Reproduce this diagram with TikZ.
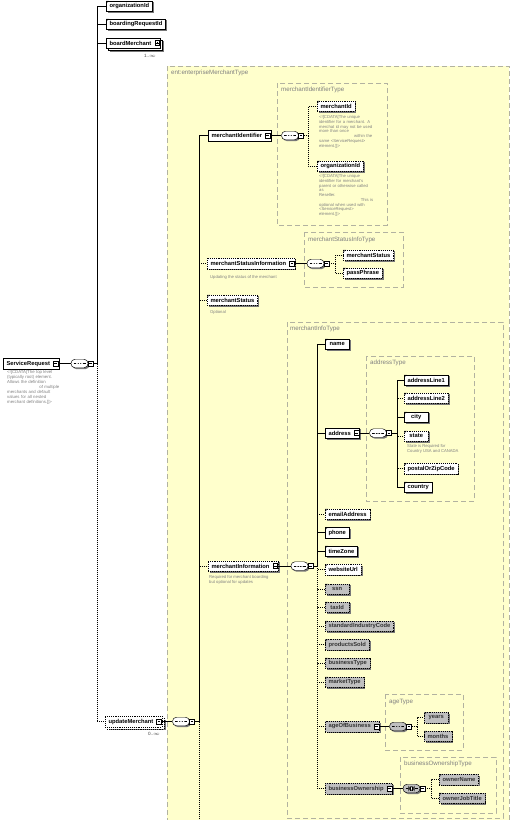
\documentclass[tikz,border=0pt]{standalone}
\usepackage{fontspec}
\setmainfont{Liberation Sans}
\usetikzlibrary{shadows}
\definecolor{ybg}{RGB}{255,255,204}
\definecolor{tbord}{RGB}{178,178,160}
\definecolor{gelc}{RGB}{192,192,192}
\definecolor{shc}{RGB}{120,120,120}
\newcommand\elf{\fontsize{5.8}{6.5}\selectfont\bfseries}
\newcommand\descf{\fontsize{4.2}{4.75}\selectfont}
\newcommand\typef{\fontsize{6.2}{7}\selectfont}
\newcommand\ic{\kern5.5pt\relax}
\tikzset{
  shad/.style={drop shadow={shadow xshift=1.4pt, shadow yshift=-1.4pt, fill=shc, opacity=1}},
  elbase/.style={draw=black, line width=0.45pt, fill=white, font=\elf, text=black, inner xsep=3.3pt, inner ysep=0pt, minimum height=10.5pt, minimum width=24pt, anchor=west},
  el/.style={elbase, shad},
  stackel/.style={elbase, drop shadow={shadow xshift=3.4pt, shadow yshift=-3.4pt, fill=shc, opacity=1}, copy shadow={shadow xshift=2pt, shadow yshift=-2pt, draw=black, fill=white, line width=0.45pt}},
  opt/.style={dash pattern=on 1pt off 0.9pt},
  gel/.style={fill=gelc, text=black!80},
  leaf/.style={path picture={\fill[black!60] (path picture bounding box.north west) -- ++(2.8pt,0pt) -- ++(-2.8pt,-2.8pt) -- cycle;}},
  icon/.style={draw=black, line width=0.4pt, fill=white, minimum size=4.8pt, inner sep=0pt, path picture={\draw[line width=0.5pt] ([xshift=1pt]path picture bounding box.west) -- ([xshift=-1pt]path picture bounding box.east);}},
  seqbase/.style={draw=black, line width=0.45pt, fill=white, rounded corners=4pt, minimum width=17pt, minimum height=8.5pt, inner sep=0pt, shad},
  seq/.style={seqbase, path picture={\draw[line width=0.45pt] ([xshift=-6pt]path picture bounding box.center) -- ([xshift=6pt]path picture bounding box.center); \foreach \d in {-2.6,0,2.6} \fill ([xshift=\d pt]path picture bounding box.center) circle (0.9pt);}},
  allc/.style={seqbase, fill=gelc, path picture={\draw[line width=0.45pt] ([xshift=-6pt]path picture bounding box.center) -- ([xshift=6pt]path picture bounding box.center); \draw[line width=0.4pt, fill=white] ([shift={(-3pt,-2pt)}]path picture bounding box.center) rectangle ([shift={(3pt,2pt)}]path picture bounding box.center); \draw[line width=0.4pt] ([shift={(-1pt,-2pt)}]path picture bounding box.center) -- ([shift={(-1pt,2pt)}]path picture bounding box.center); \draw[line width=0.4pt] ([shift={(1pt,-2pt)}]path picture bounding box.center) -- ([shift={(1pt,2pt)}]path picture bounding box.center);}},
  tbox/.style={draw=tbord, line width=0.7pt, dash pattern=on 5pt off 3pt, fill=ybg},
  tlabel/.style={font=\typef, text=black!50, anchor=west, inner sep=0pt},
  desc/.style={font=\descf, text=black!50, anchor=north west, inner sep=0pt, align=left},
  mult/.style={font=\fontsize{4.6}{5}\selectfont, text=black!75, inner sep=0pt},
  conn/.style={draw=black, line width=0.45pt},
  optc/.style={conn, dash pattern=on 1pt off 1pt},
}
\begin{document}
\begin{tikzpicture}[x=1pt,y=-1pt]
\useasboundingbox (0,0) rectangle (514,820);
\clip (0,0) rectangle (514,820);
% type containers
\draw[tbox] (167,66) rectangle (509,840);
\draw[tbox] (277,83) rectangle (387,225);
\draw[tbox] (304,232) rectangle (403,287);
\draw[tbox] (287,322) rectangle (503,818);
\draw[tbox] (366,356) rectangle (474,501);
\draw[tbox] (385,694) rectangle (463,750);
\draw[tbox] (400,757) rectangle (496,813);
\node[tlabel] (tEnt) at (171,73) {ent:enterpriseMerchantType};
\node[tlabel] (tMId) at (281,90) {merchantIdentifierType};
\node[tlabel] (tMS) at (308,240) {merchantStatusInfoType};
\node[tlabel] (tMI) at (290,328.5) {merchantInfoType};
\node[tlabel] (tAd) at (370,363) {addressType};
\node[tlabel] (tAge) at (389,702) {ageType};
\node[tlabel] (tBO) at (404,763.5) {businessOwnershipType};

% root
\node[el] (svcReq) at (3,363.5) {ServiceRequest\ic};
\node[icon] (svcReqX) at ([xshift=-3.3pt]svcReq.east) {};
\node[desc, font=\fontsize{4.3}{5}\selectfont, text width=52pt] (svcReqD) at (7,370.5) {<![CDATA[The top level\\(typically root) element.\\Allows the definition\\\hspace*{\fill}of multiple\\merchants and default\\values for all nested\\merchant definitions.]]>};
\node[seq] (s0) at (79.5,363.5) {};
\node[icon] (s0x) at ([xshift=2.2pt]s0.east) {};
\coordinate (c0) at (97,363.5);

\node[el, leaf] (orgId) at (106,6) {organizationId};
\node[el, leaf] (boardReq) at (106,24) {boardingRequestId};
\node[stackel] (boardM) at (106,43) {boardMerchant\ic};
\node[icon, path picture={\draw[line width=0.5pt] ([xshift=1pt]path picture bounding box.west) -- ([xshift=-1pt]path picture bounding box.east); \draw[line width=0.5pt] ([yshift=-1pt]path picture bounding box.north) -- ([yshift=1pt]path picture bounding box.south);}] (boardMX) at ([xshift=-3.3pt]boardM.east) {};
\node[mult] (boardMm) at (150,56) {1..$\infty$};
\node[stackel, opt] (updM) at (105,721.5) {updateMerchant\ic};
\node[icon] (updMX) at ([xshift=-3.3pt]updM.east) {};
\node[mult] (updMm) at (154,734) {0..$\infty$};
\node[seq] (s1) at (181,721.5) {};
\node[icon] (s1x) at ([xshift=2.2pt]s1.east) {};
\coordinate (c1) at (199,721.5);

% enterprise children
\node[el] (mIdent) at (208,135.5) {merchantIdentifier\ic};
\node[icon] (mIdentX) at ([xshift=-3.3pt]mIdent.east) {};
\node[seq] (s2) at (290,135.5) {};
\node[icon] (s2x) at ([xshift=2.2pt]s2.east) {};
\coordinate (c2) at (308,135.5);
\node[el, opt, leaf] (mId) at (317,106) {merchantId};
\node[desc, text width=53pt] (mIdD) at (319,115.5) {<![CDATA[The unique\\identifier for a merchant. A\\merchat id may not be used\\more than once\\\hspace*{\fill}within the\\same <ServiceRequest>\\element.]]>};
\node[el, opt, leaf] (orgId2) at (317,166) {organizationId};
\node[desc, text width=54pt] (orgId2D) at (319,174.5) {<![CDATA[The unique\\identifier for merchant's\\parent or otherwise called as\\Reseller.\\\hspace*{\fill}This is\\optional when used with\\<ServiceRequest>\\element.]]>};

\node[el, opt] (msInfo) at (207,263.5) {merchantStatusInformation\ic};
\node[icon] (msInfoX) at ([xshift=-3.3pt]msInfo.east) {};
\node[desc, anchor=west] (msInfoD) at (210,277) {Updating the status of the merchant};
\node[seq] (s3) at (315.5,263.5) {};
\node[icon] (s3x) at ([xshift=2.2pt]s3.east) {};
\coordinate (c3) at (335,263.5);
\node[el, opt, leaf] (mStat) at (343,255) {merchantStatus};
\node[el, opt, leaf] (pass) at (343,273) {passPhrase};

\node[el, opt, leaf] (mStat2) at (207,300) {merchantStatus};
\node[desc, anchor=west] (mStat2D) at (210,312) {Optional};

\node[el, opt] (mInfo) at (208,566) {merchantInformation\ic};
\node[icon] (mInfoX) at ([xshift=-3.3pt]mInfo.east) {};
\node[desc] (mInfoD) at (209,575.5) {Required for merchant boarding\\but optional for updates};
\node[seq] (s4) at (299.5,566) {};
\node[icon] (s4x) at ([xshift=2.2pt]s4.east) {};
\coordinate (c4) at (317,566);

% merchantInfoType children
\node[el, leaf] (name) at (325,344) {name};
\node[el] (addr) at (325,433) {address\ic};
\node[icon] (addrX) at ([xshift=-3.3pt]addr.east) {};
\node[el, opt, leaf] (email) at (325,514) {emailAddress};
\node[el, leaf] (phone) at (325,532.5) {phone};
\node[el, leaf] (tz) at (325,551) {timeZone};
\node[el, opt, leaf] (web) at (325,569.5) {websiteUrl};
\node[el, opt, gel, leaf] (ssn) at (325,589) {ssn};
\node[el, opt, gel, leaf] (tax) at (325,607) {taxId};
\node[el, opt, gel, leaf] (sic) at (325,626) {standardIndustryCode};
\node[el, opt, gel, leaf] (prod) at (325,644.5) {productsSold};
\node[el, opt, gel, leaf] (btype) at (325,663) {businessType};
\node[el, opt, gel, leaf] (mtype) at (325,682) {marketType};
\node[el, opt, gel] (age) at (325,726.5) {ageOfBusiness\ic};
\node[icon] (ageX) at ([xshift=-3.3pt]age.east) {};
\node[el, opt, gel] (bown) at (325,788.5) {businessOwnership\ic};
\node[icon] (bownX) at ([xshift=-3.3pt]bown.east) {};

% address
\node[seq] (s5) at (378,433) {};
\node[icon] (s5x) at ([xshift=2.2pt]s5.east) {};
\coordinate (c5) at (397,433);
\node[el, leaf] (al1) at (404,380) {addressLine1};
\node[el, opt, leaf] (al2) at (404,398) {addressLine2};
\node[el, leaf] (city) at (404,417) {city};
\node[el, opt, leaf] (state) at (404,436) {state};
\node[desc] (stateD) at (407,444.5) {State is Required for\\Country USA and CANADA};
\node[el, opt, leaf] (zip) at (404,468.5) {postalOrZipCode};
\node[el, leaf] (country) at (404,487) {country};

% age
\node[seq, fill=gelc] (s6) at (398,726.5) {};
\node[icon] (s6x) at ([xshift=2.2pt]s6.east) {};
\coordinate (c6) at (417,726.5);
\node[el, opt, gel, leaf] (years) at (424,717.5) {years};
\node[el, opt, gel, leaf] (months) at (424,736) {months};

% business ownership
\node[allc] (s7) at (411.5,788.5) {};
\node[icon] (s7x) at ([xshift=2.2pt]s7.east) {};
\coordinate (c7) at (431,788.5);
\node[el, opt, gel, leaf] (oName) at (439,779.5) {ownerName};
\node[el, opt, gel, leaf] (oJob) at (439,798) {ownerJobTitle};

% connectors
\draw[conn] (svcReq.east) -- (s0.west);
\draw[conn] (s0x.east) -- (c0);
\draw[conn] (c0) |- (orgId.west);
\draw[conn] (c0) |- (boardReq.west);
\draw[conn] (c0) |- (boardM.west);
\draw[optc] (c0) |- (updM.west);
\draw[conn] (updM.east) -- (s1.west);
\draw[conn] (s1x.east) -- (c1);
\draw[conn] (c1) |- (mIdent.west);
\draw[optc] (c1) |- (msInfo.west);
\draw[optc] (c1) |- (mStat2.west);
\draw[optc] (c1) |- (mInfo.west);
\draw[optc] (c1) -- ++(0,120);
\draw[conn] (mIdent.east) -- (s2.west);
\draw[optc] (s2x.east) -- (c2);
\draw[optc] (c2) |- (mId.west);
\draw[optc] (c2) |- (orgId2.west);
\draw[conn] (msInfo.east) -- (s3.west);
\draw[optc] (s3x.east) -- (c3);
\draw[optc] (c3) |- (mStat.west);
\draw[optc] (c3) |- (pass.west);
\draw[conn] (mInfo.east) -- (s4.west);
\draw[conn] (s4x.east) -- (c4);
\draw[conn] (c4) |- (name.west);
\draw[conn] (c4) |- (addr.west);
\draw[optc] (c4) |- (email.west);
\draw[conn] (c4) |- (phone.west);
\draw[conn] (c4) |- (tz.west);
\draw[optc] (c4) |- (web.west);
\draw[optc] (c4) |- (ssn.west);
\draw[optc] (c4) |- (tax.west);
\draw[optc] (c4) |- (sic.west);
\draw[optc] (c4) |- (prod.west);
\draw[optc] (c4) |- (btype.west);
\draw[optc] (c4) |- (mtype.west);
\draw[optc] (c4) |- (age.west);
\draw[optc] (c4) |- (bown.west);
\draw[conn] (addr.east) -- (s5.west);
\draw[conn] (s5x.east) -- (c5);
\draw[conn] (c5) |- (al1.west);
\draw[optc] (c5) |- (al2.west);
\draw[conn] (c5) |- (city.west);
\draw[optc] (c5) |- (state.west);
\draw[optc] (c5) |- (zip.west);
\draw[conn] (c5) |- (country.west);
\draw[conn] (age.east) -- (s6.west);
\draw[optc] (s6x.east) -- (c6);
\draw[optc] (c6) |- (years.west);
\draw[optc] (c6) |- (months.west);
\draw[conn] (bown.east) -- (s7.west);
\draw[optc] (s7x.east) -- (c7);
\draw[optc] (c7) |- (oName.west);
\draw[optc] (c7) |- (oJob.west);
\end{tikzpicture}
\end{document}
